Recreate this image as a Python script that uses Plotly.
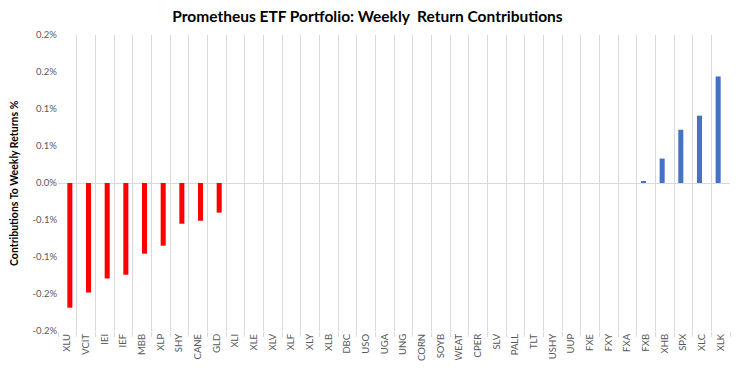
import plotly.graph_objects as go

tickers = ["XLU", "VCIT", "IEI", "IEF", "MBB", "XLP", "SHY", "CANE", "GLD", "XLI", "XLE", "XLV",
           "XLF", "XLY", "XLB", "DBC", "USO", "UGA", "UNG", "CORN", "SOYB", "WEAT", "CPER", "SLV",
           "PALL", "TLT", "USHY", "UUP", "FXE", "FXY", "FXA", "FXB", "XHB", "SPX", "XLC", "XLK"]
contrib = [-0.1685, -0.148, -0.129, -0.124, -0.0955, -0.0847, -0.055, -0.051, -0.040, 0, 0, 0,
           0, 0, 0, 0, 0, 0, 0, 0, 0, 0, 0, 0,
           0, 0, 0, 0, 0, 0, 0, 0.002, 0.033, 0.072, 0.091, 0.144]
y_tickvals = [-0.2, -0.15, -0.1, -0.05, 0.0, 0.05, 0.1, 0.15, 0.2]
y_ticktext = ["-0.2%", "-0.2%", "-0.1%", "-0.1%", "0.0%", "0.1%", "0.1%", "0.2%", "0.2%"]

gains = [v if v > 0 else None for v in contrib]
losses = [v if v < 0 else None for v in contrib]

FONT = "Lato, Liberation Sans, Arial, sans-serif"

fig = go.Figure()
fig.add_trace(go.Bar(x=tickers, y=gains, name="Gain",
                     marker=dict(color="#4472C4", line=dict(width=0))))
fig.add_trace(go.Bar(x=tickers, y=losses, name="Loss",
                     marker=dict(color="#FF0000", line=dict(width=0))))

fig.update_layout(
    width=752, height=377,
    paper_bgcolor="white", plot_bgcolor="white",
    margin=dict(l=50, r=30, t=27, b=54),
    barmode="group", bargap=0.46, bargroupgap=0,
    title=dict(text="<b>Prometheus ETF Portfolio: Weekly  Return Contributions</b>",
               x=0.478, xanchor="center", y=0.978, yanchor="middle",
               font=dict(family=FONT, size=15.5, color="#000000")),
    showlegend=False,
    font=dict(family=FONT),
    annotations=[dict(text="<b>Contributions To Weekly Returns %</b>", textangle=-90,
                      xref="paper", yref="paper", x=-0.0655, y=0.5,
                      xanchor="center", yanchor="middle", showarrow=False,
                      font=dict(family=FONT, size=10.5, color="#000000"))],
)
fig.update_xaxes(
    type="category", tickson="boundaries", showgrid=True, gridcolor="#D9D9D9", gridwidth=1,
    ticks="outside", ticklen=5, tickcolor="#D9D9D9", tickangle=-90, automargin=False,
    tickfont=dict(size=9.5, color="#595959"), showline=False, zeroline=False,
)
fig.update_yaxes(
    range=[-0.2, 0.2], tickvals=y_tickvals, ticktext=y_ticktext, automargin=False,
    showgrid=False, zeroline=True, zerolinecolor="#D9D9D9", zerolinewidth=1,
    tickfont=dict(size=9.5, color="#595959"), ticks="", showline=False,
)

fig.write_html("out.html")
